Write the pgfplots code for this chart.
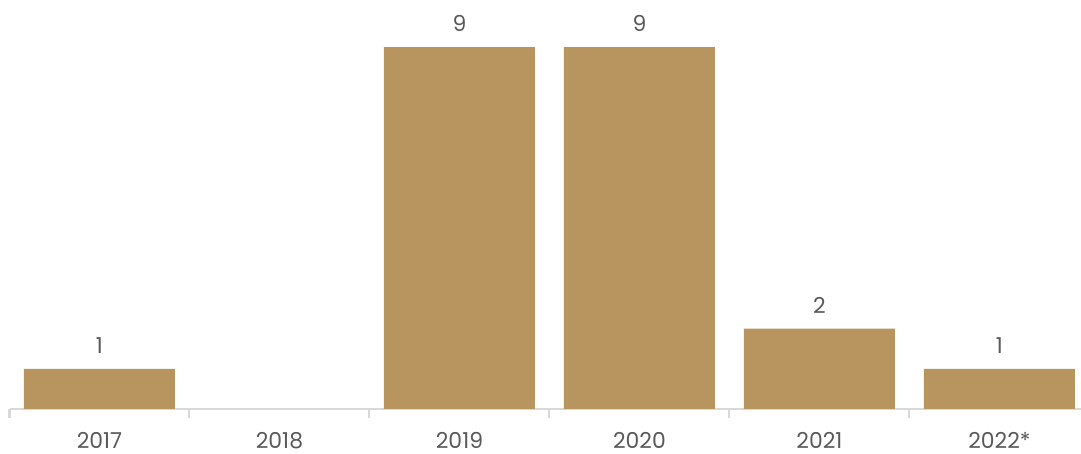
\documentclass[border=0pt]{standalone}
\usepackage{fontspec}
\setmainfont{Poppins}
\usepackage{pgfplots}
\pgfplotsset{compat=1.18}
\definecolor{bargold}{HTML}{B8945E}
\definecolor{axgray}{HTML}{D9D9D9}
\definecolor{txtgray}{HTML}{595959}
\begin{document}
\begin{tikzpicture}
\useasboundingbox (0,0) rectangle (1081bp,454bp);
\begin{axis}[
  at={(9.5bp,45bp)}, anchor=south west,
  scale only axis, width=1071.5bp, height=402.2bp,
  xmin=-0.5, xmax=5.453, ymin=0, ymax=10,
  axis y line=none,
  axis x line*=bottom,
  x axis line style={draw=axgray, line width=2bp, -},
  xtick={0,1,2,3,4,5},
  xticklabels={2017,2018,2019,2020,2021,2022*},
  major tick length=0pt,
  extra x ticks={-0.5,0.5,1.5,2.5,3.5,4.5},
  extra x tick labels={},
  extra x tick style={major tick length=9bp, tick style={draw=axgray, line width=2bp}, tick align=outside},
  xticklabel style={font=\fontsize{22}{26}\selectfont, text=txtgray, anchor=north, inner sep=0pt, yshift=-23bp},
  /pgf/number format/assume math mode=true,
  clip=false,
]
\addplot[ybar, bar width=151bp, fill=bargold, draw=none,
  nodes near coords,
  nodes near coords style={font=\fontsize{22}{26}\selectfont, text=txtgray, anchor=south, inner sep=0pt, yshift=15bp}]
  coordinates {(0,1) (2,9) (3,9) (4,2) (5,1)};
\end{axis}
\end{tikzpicture}
\end{document}
